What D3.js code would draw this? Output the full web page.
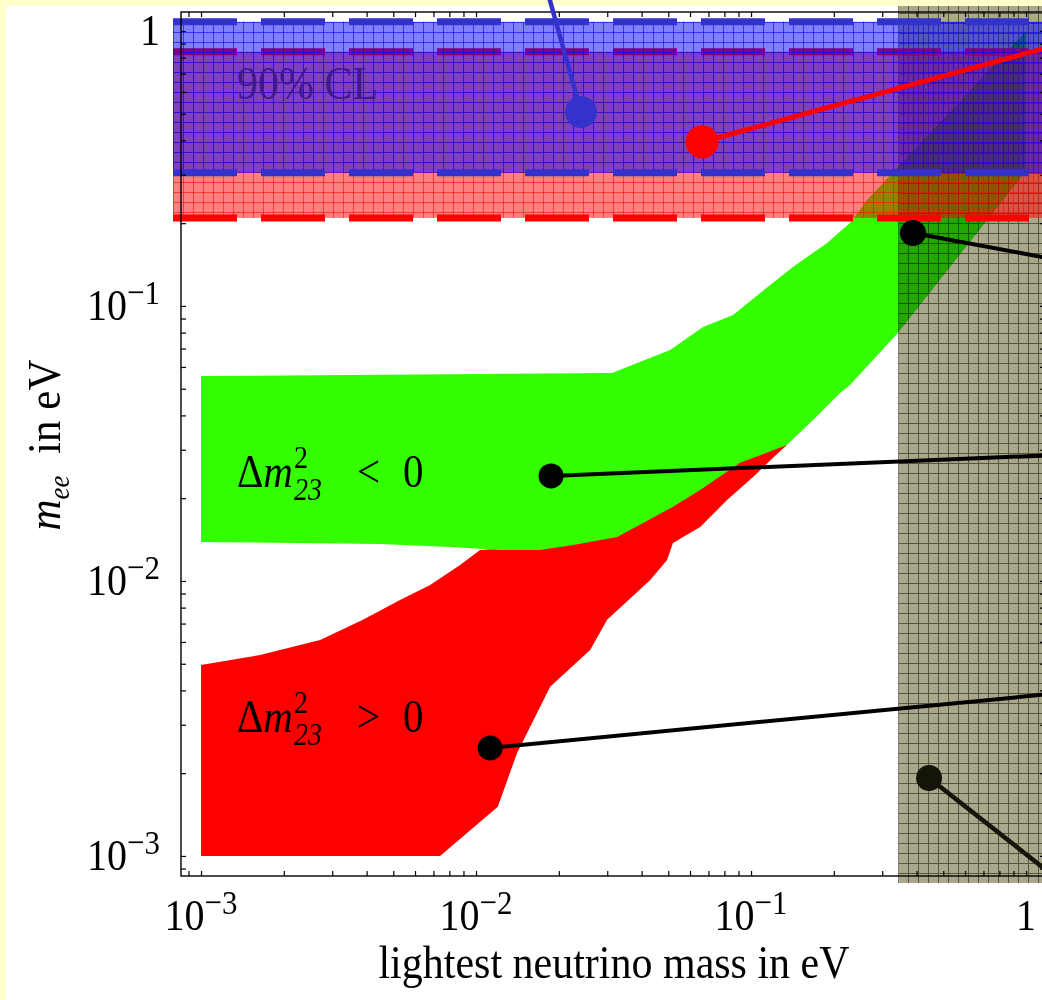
<!DOCTYPE html>
<html><head><meta charset="utf-8">
<script src="https://cdn.jsdelivr.net/npm/d3@7"></script>
<style>html,body{margin:0;padding:0;background:#ffffcc;} svg{display:block}</style>
</head><body><svg id="c" width="1042" height="1000"></svg>
<script>
// ---------------- data ----------------
const axisDomain = [8.456e-4, 1.172];            // both axes, eV
const majorTicks = [1e-3, 1e-2, 1e-1, 1];
const tickBase = ["10", "10", "10", "1"];
const tickExp = ["−3", "−2", "−1", ""];

// inverted hierarchy (Δm²23 < 0), green
const invertedUpper = [[0.001,0.0556],[0.0312,0.0571],[0.0508,0.0692],[0.0669,0.0839],[0.086,0.0928],
  [0.108,0.1115],[0.142,0.1387],[0.189,0.1695],[0.229,0.2004],[0.264,0.243],[0.60,0.58],[1.0,1.0]];
const invertedLower = [[1.0,0.31],[0.825,0.243],[0.342,0.0797],[0.229,0.0516],[0.2107,0.0483],[0.168,0.0385],
  [0.135,0.0312],[0.0912,0.0269],[0.0653,0.0214],[0.052,0.0186],[0.0326,0.01445],[0.02253,0.01352],
  [0.0171,0.01297],[0.01223,0.01297],[0.00804,0.0133],[0.00448,0.01364],[0.001,0.01386]];

// normal hierarchy (Δm²23 > 0), red
const normalUpper = [[0.001,0.00495],[0.00164,0.00538],[0.00271,0.0061],[0.00388,0.00722],[0.00529,0.00853],
  [0.00681,0.00967],[0.00875,0.01143],[0.01034,0.01297],[0.0171,0.0134],[0.0225,0.0141],[0.0326,0.01533],
  [0.052,0.0197],[0.0912,0.0287],[0.135,0.0334]];
const normalLower = [[0.135,0.0312],[0.120,0.028],[0.1017,0.0239],[0.0818,0.0197],[0.0653,0.0157],
  [0.052,0.01374],[0.0495,0.01192],[0.043,0.01008],[0.02996,0.00722],[0.026,0.00561],[0.0186,0.00412],
  [0.0141,0.00237],[0.0120,0.00151],[0.0074,0.001],[0.001,0.001]];

// experimental bands (m_ee ranges, eV)
const redBand = [0.209, 0.84];
const blueBand = [0.305, 1.08];
// cosmological bound on lightest mass (eV)
const cosmoBound = 0.343;

// callout dots and line end points (data coords)
const calloutDots = [[0.0241,0.5075],[0.0664,0.395],[0.388,0.1843],[0.01874,0.0241],[0.01125,0.00247],[0.444,0.00192]];
const calloutEnds = [[0.01812,1.41],[1.329,0.896],[1.329,0.1465],[1.329,0.02874],[1.329,0.00391],[1.329,0.000811]];

// ---------------- drawing ----------------
const svg = d3.select("#c");
const W = 1042, H = 1000;
const x = d3.scaleLog().domain(axisDomain).range([181, 1045]);
const y = d3.scaleLog().domain(axisDomain).range([876, 12]);
const serif = "'Liberation Serif','Times New Roman',serif";
const VS = 1.12; // vertical stretch of glyphs

svg.append("rect").attr("x",6).attr("y",6).attr("width",W-6).attr("height",H-6).attr("fill","#fff");

const defs = svg.append("defs");
function gridPattern(id, bg, line, ox, oy) {
  const p = defs.append("pattern").attr("id", id).attr("patternUnits","userSpaceOnUse")
    .attr("width",10).attr("height",10).attr("x",ox).attr("y",oy);
  p.append("rect").attr("width",10).attr("height",10).attr("fill",bg);
  p.append("path").attr("d","M0,0.5H10M0.5,0V10").attr("stroke",line).attr("stroke-width",1).attr("fill","none");
}
gridPattern("gRed","rgba(255,0,0,0.5)","rgba(255,0,0,0.55)",3,2);
gridPattern("gBlue","rgba(0,0,255,0.5)","rgba(0,0,255,0.6)",3,2);
gridPattern("gGray","#aaa88c","#57553a",8,3);

defs.append("clipPath").attr("id","plotClip").append("rect")
  .attr("x",181).attr("y",12).attr("width",864).attr("height",864);

const line = d3.line().x(d => x(d[0])).y(d => y(d[1]));
const regions = svg.append("g").attr("clip-path","url(#plotClip)");
regions.append("path").attr("d", line(normalUpper.concat(normalLower)) + "Z").attr("fill","#ff0000");
regions.append("path").attr("d", line(invertedUpper.concat(invertedLower)) + "Z").attr("fill","#33ff00");

// cosmology band (gray, multiplied)
svg.append("rect").attr("x", x(cosmoBound)).attr("y", y(axisDomain[1]) - 6)
  .attr("width", W - x(cosmoBound)).attr("height", y(axisDomain[0]) - y(axisDomain[1]) + 13)
  .attr("fill","url(#gGray)").style("mix-blend-mode","multiply");

const bandX0 = x(axisDomain[0]) - 8;
function band(b, pat, dashColor) {
  svg.append("rect").attr("x", bandX0).attr("y", y(b[1])).attr("width", W - bandX0)
    .attr("height", y(b[0]) - y(b[1])).attr("fill", `url(#${pat})`);
  b.forEach(v => svg.append("line").attr("x1", bandX0).attr("x2", W).attr("y1", y(v)).attr("y2", y(v))
    .attr("stroke", dashColor).attr("stroke-width", 7).attr("stroke-dasharray","64,24"));
}
band(redBand, "gRed", "#ff0000");
band(blueBand, "gBlue", "#3333cc");

function stretchedText(px, py) {
  return svg.append("g").attr("transform", `translate(${px},${py}) scale(1,${VS})`).append("text")
    .attr("font-family", serif);
}

stretchedText(237, 99).attr("font-size", 42).attr("fill","#42198a").text("90% CL");

// axes
const ax = svg.append("g");
ax.append("rect").attr("x",181).attr("y",12).attr("width",864).attr("height",864)
  .attr("fill","none").attr("stroke","#000").attr("stroke-width",1.4);
function ticks(g){ g.select(".domain").remove(); g.selectAll("line").attr("stroke","#000").attr("stroke-width",1.2); }
ax.append("g").attr("transform","translate(0,876)").call(d3.axisBottom(x).tickSize(-5).tickFormat("")).call(ticks);
ax.append("g").attr("transform","translate(0,12)").call(d3.axisTop(x).tickSize(-5).tickFormat("")).call(ticks);
ax.append("g").attr("transform","translate(181,0)").call(d3.axisLeft(y).tickSize(-5).tickFormat("")).call(ticks);
ax.append("g").attr("transform","translate(1045,0)").call(d3.axisRight(y).tickSize(-5).tickFormat("")).call(ticks);

// tick labels
majorTicks.forEach((v, i) => {
  const tx = stretchedText(x(v), 930).attr("text-anchor","middle").attr("font-size", 40);
  tx.append("tspan").text(tickBase[i]);
  if (tickExp[i]) tx.append("tspan").attr("dy",-14).attr("font-size",31).text(tickExp[i]);
  const ty = stretchedText(160, y(v) + 14).attr("text-anchor","end").attr("font-size", 40);
  ty.append("tspan").text(tickBase[i]);
  if (tickExp[i]) ty.append("tspan").attr("dy",-14).attr("font-size",31).text(tickExp[i]);
});

// axis titles
stretchedText(614, 978).attr("text-anchor","middle").attr("font-size", 42).text("lightest neutrino mass in eV");
const yl = svg.append("g").attr("transform","translate(60,445) rotate(-90) scale(1,1.08)").append("text")
  .attr("text-anchor","middle").attr("font-family", serif).attr("font-size", 43);
yl.append("tspan").attr("font-style","italic").text("m");
yl.append("tspan").attr("font-style","italic").attr("font-size",27).attr("dy",8).text("ee");
yl.append("tspan").attr("dy",-8).text("  in eV").attr("xml:space","preserve");

// Δm² labels
function dmLabel(x0, base, sign) {
  const t = stretchedText(x0, base).attr("font-size", 41);
  t.append("tspan").text("Δ");
  t.append("tspan").attr("font-style","italic").text("m");
  t.append("tspan").attr("font-size",28).attr("dy",-17).attr("dx",1).text("2");
  t.append("tspan").attr("font-size",28).attr("font-style","italic").attr("dy",29).attr("dx",-14).text("23");
  stretchedText(x0 + 120, base).attr("font-size", 41).text(sign);
  stretchedText(x0 + 166, base).attr("font-size", 41).text("0");
}
dmLabel(237, 487, "<");
dmLabel(237, 732, ">");

// callouts
const calloutStyle = [
  {c:"#3333cc", r:16, w:4.5}, {c:"#ff0000", r:16.5, w:5}, {c:"#000", r:13, w:4},
  {c:"#000", r:12.5, w:4}, {c:"#000", r:12.5, w:4}, {c:"#141408", r:13, w:4.5}];
calloutDots.forEach((d, i) => {
  const s = calloutStyle[i], e = calloutEnds[i];
  svg.append("line").attr("x1", x(d[0])).attr("y1", y(d[1])).attr("x2", x(e[0])).attr("y2", y(e[1]))
    .attr("stroke", s.c).attr("stroke-width", s.w);
  svg.append("circle").attr("cx", x(d[0])).attr("cy", y(d[1])).attr("r", s.r).attr("fill", s.c);
});
</script></body></html>
